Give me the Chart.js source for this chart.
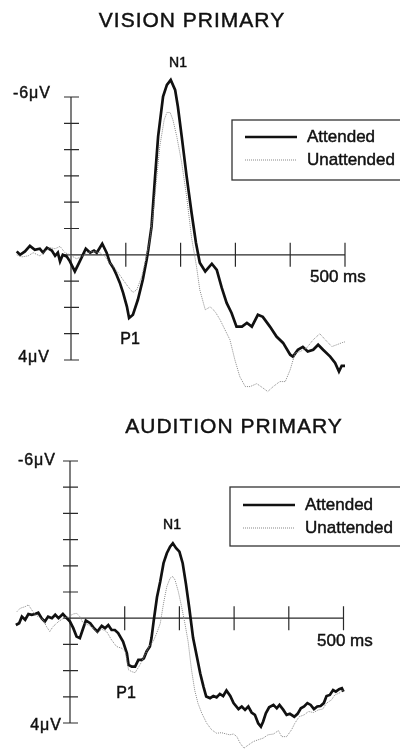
<!DOCTYPE html>
<html>
<head>
<meta charset="utf-8">
<script src="https://cdn.jsdelivr.net/npm/chart.js@4.4.1/dist/chart.umd.min.js"></script>
<style>
  html, body { margin: 0; padding: 0; background: #fff; }
  #wrap { position: relative; width: 400px; height: 751px; overflow: hidden; }
  canvas { position: absolute; left: 0; }
</style>
</head>
<body>
<div id="wrap">
  <canvas id="vision" width="400" height="400" style="top:0"></canvas>
  <canvas id="audition" width="400" height="351" style="top:400px"></canvas>
</div>
<script>
// time (ms) and amplitude (µV), negative is up
const visionAttT = [-99,-93,-84,-75,-66,-57,-51,-44,-35,-29,-24,-20,-15,-8,-2,7,16,27,35,42,47,57,65,71,77,83,89,95,102,106,113,122,131,138,141,147,153,159,168,175,182,190,195,202,211,220,228,235,245,257,266,275,284,293,302,312,321,330,341,350,363,375,387,400,405,414,423,432,442,451,460,473,482,489,494,500];
const visionAttV = [-0.13,0,-0.13,-0.34,-0.19,-0.23,-0.08,-0.27,-0.16,0.04,-0.08,0.25,0,0.06,0.25,0.63,0.25,-0.23,-0.08,-0.16,-0.08,-0.42,-0.08,0.30,0.49,0.76,1.06,1.44,1.97,2.40,2.28,1.71,0.95,0.19,-0.19,-1.08,-2.85,-4.50,-6.02,-6.46,-6.65,-6.27,-5.64,-4.50,-2.98,-1.60,-0.46,0.30,0.63,0.34,0.57,1.25,1.83,2.21,2.73,2.73,2.59,2.73,2.28,2.36,2.73,3.11,3.35,3.80,3.87,3.61,3.50,3.68,3.61,3.42,3.61,3.87,4.11,4.44,4.22,4.22];

const visionUnT = [-99,-90,-78,-69,-57,-47,-38,-29,-20,-11,-2,10,20,29,40,53,62,68,77,86,95,104,113,120,129,135,144,150,156,162,170,175,181,186,193,202,211,220,229,235,245,254,263,272,281,290,299,308,318,327,339,350,359,369,381,391,400,409,418,430,442,454,464,476,485,496,500];
const visionUnV = [0,0.08,0.04,-0.08,0.04,-0.13,-0.27,-0.23,-0.32,-0.08,0,0.15,0.06,-0.08,-0.13,-0.08,0.06,0.25,0.44,0.68,0.95,1.21,1.43,1.33,0.83,0.30,-0.57,-1.60,-2.85,-4.12,-5.13,-5.41,-5.41,-5.13,-4.50,-3.50,-2.22,-0.65,0.44,1.33,2.09,1.98,2.16,2.47,2.85,3.23,3.99,4.63,5.01,5.01,4.90,5.06,5.20,5.01,4.82,4.82,4.37,3.73,3.68,3.54,3.23,3.00,3.23,3.49,3.42,3.33,3.31];

const auditionAttT = [-99,-93,-88,-82,-76,-70,-64,-58,-52,-46,-40,-33,-27,-21,-13,-6,0,6,12,18,23,29,37,43,50,58,64,70,76,82,88,97,104,107,113,119,125,131,135,140,146,149,153,159,165,171,177,183,188,194,200,206,212,218,225,232,238,244,249,256,262,268,274,280,286,293,299,308,314,320,326,332,338,344,349,353,358,364,372,378,383,390,396,402,410,416,422,428,434,440,446,452,458,464,469,475,481,486,492,497,500];
const auditionAttV = [0.26,0.19,-0.06,0.06,-0.16,-0.13,-0.16,-0.21,0,0.13,-0.06,0,-0.13,0,-0.16,0,0.13,0.38,0.70,0.76,0.45,0.09,0.19,0.36,0.51,0.29,0.38,0.26,0.45,0.45,0.57,0.89,1.34,1.78,1.85,1.85,1.59,1.59,1.53,1.27,1.08,0.76,0.10,-0.80,-1.40,-2.10,-2.48,-2.73,-2.86,-2.67,-2.54,-2.10,-1.30,-0.40,0.75,1.47,2.10,2.61,2.99,3.05,2.97,3.02,2.89,2.97,2.76,2.97,3.24,3.47,3.37,3.50,3.37,3.60,3.69,4.01,4.14,3.95,3.63,3.40,3.31,3.44,3.31,3.50,3.69,3.65,3.76,3.65,3.44,3.37,3.24,3.31,3.47,3.37,3.35,3.24,2.97,2.93,2.74,2.80,2.71,2.67,2.80];

const auditionUnT = [-97,-91,-82,-76,-70,-64,-58,-49,-43,-37,-31,-21,-12,-3,6,12,18,24,34,43,50,58,67,76,85,95,101,107,113,119,128,137,146,152,158,165,171,177,183,188,192,198,204,210,216,222,228,234,241,250,259,268,277,286,292,299,305,311,318,326,335,344,353,362,372,381,387,396,405,411,419,428,436,445,454,462,469,478,484,492,500];
const auditionUnV = [-0.25,-0.38,-0.44,-0.51,-0.32,-0.13,-0.06,0.06,0.32,0.51,0.32,0.13,0,-0.06,-0.16,-0.19,-0.06,0.19,0.26,0.38,0.57,0.42,0.51,0.83,1.08,1.15,1.27,1.97,2.04,2.08,1.78,1.40,1.02,0.89,0.60,0.20,-0.57,-1.21,-1.53,-1.59,-1.46,-1.02,-0.44,0.19,0.90,1.95,2.75,3.25,3.63,4.01,4.26,4.39,4.37,4.42,4.45,4.42,4.52,4.77,4.96,4.84,4.71,4.64,4.58,4.45,4.42,4.29,4.52,4.52,4.26,4.01,3.76,3.69,3.56,3.60,3.50,3.47,3.24,3.12,2.93,2.86,2.74];

const yTicks = [-6,-5,-4,-3,-2,-1,0,1,2,3,4];
const xTicks = [100,200,300,400,500];
const yTopLabel = '-6\u03bcV';
const yBottomLabel = '4\u03bcV';
const xEndLabel = '500 ms';
const seriesNames = ['Attended', 'Unattended'];

const FONT = '"Liberation Sans", Arial, Helvetica, sans-serif';

function pts(t, v) {
    return t.map((x, i) => ({ x: x, y: v[i] }));
}

// scanned print looks heavier than plain Liberation Sans, so add a hairline stroke
function txt(ctx, s, x, y, size, align, spacing) {
    ctx.font = size + 'px ' + FONT;
    ctx.textAlign = align;
    ctx.textBaseline = 'middle';
    ctx.letterSpacing = (spacing || 0) + 'px';
    ctx.fillText(s, x, y);
    ctx.lineWidth = 0.45;
    ctx.strokeStyle = ctx.fillStyle;
    ctx.strokeText(s, x, y);
}

const erpPlugin = {
    id: 'erp',
    beforeDatasetsDraw(chart, args, o) {
        const ctx = chart.ctx, xs = chart.scales.x, ys = chart.scales.y;
        const x0 = xs.getPixelForValue(0), y0 = ys.getPixelForValue(0);
        ctx.save();
        ctx.strokeStyle = '#2a2a2a';
        ctx.lineWidth = 1.2;
        ctx.beginPath();
        ctx.moveTo(x0, ys.getPixelForValue(yTicks[0]));
        ctx.lineTo(x0, ys.getPixelForValue(yTicks[yTicks.length - 1]));
        yTicks.forEach(v => {
            const p = ys.getPixelForValue(v);
            ctx.moveTo(x0 - 7, p);
            ctx.lineTo(x0 + 8, p);
        });
        ctx.moveTo(x0, y0);
        ctx.lineTo(xs.getPixelForValue(xTicks[xTicks.length - 1]), y0);
        xTicks.forEach(v => {
            const p = xs.getPixelForValue(v);
            ctx.moveTo(p, y0 - 12);
            ctx.lineTo(p, y0 + 12);
        });
        ctx.stroke();
        ctx.restore();
    },
    afterDraw(chart, args, o) {
        const ctx = chart.ctx;
        ctx.save();
        ctx.fillStyle = '#111';
        txt(ctx, o.title, o.titleX, o.titleY, 21, 'center', 1);
        txt(ctx, yTopLabel, o.yTop[0], o.yTop[1], 16, 'right', 1);
        txt(ctx, yBottomLabel, o.yBot[0], o.yBot[1], 16, 'right', 1);
        txt(ctx, xEndLabel, o.xEnd[0], o.xEnd[1], 17, 'left', 0);
        txt(ctx, 'N1', o.n1[0], o.n1[1], 14, 'center', 0);
        txt(ctx, 'P1', o.p1[0], o.p1[1], 16, 'center', 0);

        // legend box
        const L = o.legend;
        ctx.strokeStyle = '#333';
        ctx.lineWidth = 1.3;
        ctx.strokeRect(L.x, L.y, 180, L.h);
        ctx.beginPath();
        ctx.strokeStyle = '#111';
        ctx.lineWidth = 2.6;
        ctx.moveTo(L.x + 13, L.y1);
        ctx.lineTo(L.x + 65, L.y1);
        ctx.stroke();
        ctx.beginPath();
        ctx.strokeStyle = '#888';
        ctx.lineWidth = 1;
        ctx.setLineDash([1, 1]);
        ctx.moveTo(L.x + 13, L.y2);
        ctx.lineTo(L.x + 65, L.y2);
        ctx.stroke();
        ctx.setLineDash([]);
        ctx.fillStyle = '#111';
        txt(ctx, seriesNames[0], L.x + 75, L.y1, 17, 'left', 0);
        txt(ctx, seriesNames[1], L.x + 75, L.y2, 17, 'left', 0);
        ctx.restore();
    }
};

function makeChart(id, att, un, pad, cfg) {
    return new Chart(document.getElementById(id).getContext('2d'), {
        type: 'line',
        data: {
            datasets: [
                {
                    label: seriesNames[1],
                    data: un,
                    borderColor: '#8a8a8a',
                    borderWidth: 1,
                    borderDash: [1, 1],
                    pointRadius: 0,
                    clip: false
                },
                {
                    label: seriesNames[0],
                    data: att,
                    borderColor: '#111',
                    borderWidth: 2.7,
                    pointRadius: 0,
                    clip: false
                }
            ]
        },
        options: {
            responsive: false,
            animation: false,
            devicePixelRatio: 1,
            layout: { padding: pad },
            scales: {
                x: { type: 'linear', min: -100, max: 500, display: false },
                y: { type: 'linear', min: -6, max: 4, reverse: true, display: false }
            },
            plugins: {
                legend: { display: false },
                tooltip: { enabled: false },
                erp: cfg
            }
        },
        plugins: [erpPlugin]
    });
}

makeChart('vision', pts(visionAttT, visionAttV), pts(visionUnT, visionUnV),
    { left: 16.2, right: 55, top: 97, bottom: 40 },
    {
        title: 'VISION PRIMARY', titleX: 192, titleY: 21,
        yTop: [51, 94], yBot: [50, 358], xEnd: [310, 277],
        n1: [178, 63], p1: [130, 340],
        legend: { x: 232, y: 120, h: 60, y1: 137, y2: 160 }
    });

makeChart('audition', pts(auditionAttT, auditionAttV), pts(auditionUnT, auditionUnV),
    { left: 15.3, right: 56.5, top: 61, bottom: 28 },
    {
        title: 'AUDITION PRIMARY', titleX: 234, titleY: 27,
        yTop: [56, 61], yBot: [62, 326], xEnd: [317, 241],
        n1: [172, 125], p1: [126, 294],
        legend: { x: 230, y: 87, h: 59, y1: 105, y2: 128 }
    });
</script>
</body>
</html>
